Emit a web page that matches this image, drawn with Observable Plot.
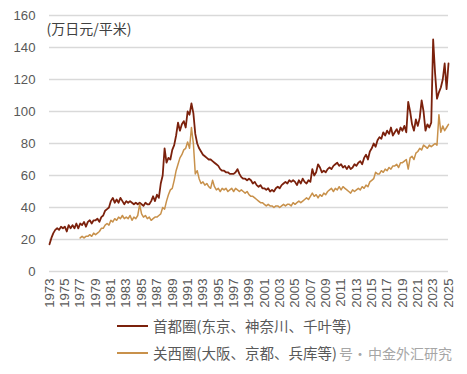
<!DOCTYPE html>
<html><head><meta charset="utf-8">
<script src="https://cdn.jsdelivr.net/npm/d3@7"></script>
<script src="https://cdn.jsdelivr.net/npm/@observablehq/plot@0.6"></script>
<style>
body{margin:0;background:#fff;font-family:"Noto Sans CJK SC","Liberation Sans",sans-serif;}
#wrap{position:relative;width:467px;height:374px;overflow:hidden;background:#fff}
.legline{position:absolute;height:2px;width:31px;left:117px}
.legtext{position:absolute;left:153px;font-size:14.5px;color:#595959;line-height:18px;white-space:nowrap}
.wm{position:absolute;font-size:14px;color:#a6a6a6;line-height:18px;white-space:nowrap}
</style></head><body>
<div id="wrap"><div id="chart"></div></div>
<script>
// 首都圈 quarterly values starting 1973
const capitalStart = 1973;
const capitalValues = [
17,21,24,26, 27,26,28,27, 28,25,29,27, 29,27,30,27, 30,29,31,28,
31,32,30,32, 32,33,31,34, 35,38,39,40, 44,46,43,45, 43,46,44,42,
44,43,44,43, 42,43,42,43, 42,41,43,42, 42,44,47,44, 48,46,55,60,
77,68,71,70, 76,79,85,93, 88,92,94,90, 100,98,105,99, 86,80,77,75,
73,72,71,70, 70,69,68,67, 66,64,63,63, 62,62,61,61, 61,62,64,61,
59,58,58,57, 58,57,55,56, 54,53,54,52, 52,51,52,50, 51,50,52,53,
52,54,55,56, 55,57,56,57, 56,54,57,55, 58,56,55,57, 56,64,60,62,
67,65,62,63, 62,64,65,64, 66,67,68,66, 67,65,66,64, 66,64,65,67,
66,68,69,67, 71,73,70,75, 77,80,78,82, 84,83,87,85, 88,86,90,85,
87,89,86,90, 88,91,87,106, 100,92,88,95, 91,96,107,100, 88,92,90,93,
145,124,108,112, 115,120,130,114, 130
];
// 关西圈 quarterly values starting 1977
const kansaiStart = 1977;
const kansaiValues = [
21,22,21,22, 22,23,22,24, 23,24,25,27, 27,29,30,29, 32,31,33,32,
34,33,35,33, 34,33,35,32, 34,33,35,42, 36,34,35,33, 34,32,33,34,
34,35,36,40, 39,44,48,51, 52,57,63,67, 71,73,76,77, 81,77,90,80,
61,63,58,55, 56,54,55,53, 52,57,53,51, 52,50,52,51, 52,50,51,52,
50,52,51,50, 51,50,49,50, 48,47,47,46, 45,44,43,43, 42,41,42,41,
41,40,41,41, 40,41,42,41, 42,42,41,43, 42,43,44,43, 44,45,46,45,
47,49,47,48, 46,48,47,49, 48,50,51,52, 50,52,51,53, 51,53,52,51,
50,49,51,50, 51,52,51,53, 52,54,53,56, 57,58,62,61, 61,63,62,64,
63,65,64,66, 66,67,65,68, 68,69,70,64, 71,72,70,74, 75,77,76,79,
78,77,79,78, 79,80,79,98, 87,91,88,90, 92
];
const yearTicks = [1973,1975,1977,1979,1981,1983,1985,1987,1989,1991,1993,1995,1997,1999,2001,2003,2005,2007,2009,2011,2013,2015,2017,2019,2021,2023,2025];
const yTicks = [0,20,40,60,80,100,120,140,160];
const seriesNames = ["首都圈(东京、神奈川、千叶等)", "关西圈(大阪、京都、兵库等)"];
const seriesColors = ["#7b210c", "#c8914b"];
const unitLabel = "(万日元/平米)";
const watermarkParts = ["号·", "中金外汇研究"];

const capitalRows = capitalValues.map((v, i) => ({t: capitalStart + i / 4, v}));
const kansaiRows = kansaiValues.map((v, i) => ({t: kansaiStart + i / 4, v}));

const chart = Plot.plot({
  width: 467, height: 312,
  marginTop: 15, marginBottom: 41, marginLeft: 49, marginRight: 19,
  style: {fontFamily: '"Liberation Sans", "Noto Sans CJK SC", sans-serif', fontSize: "13.2px", color: "#595959", background: "white"},
  x: {domain: [1973, 2025], ticks: yearTicks, tickFormat: d => String(d), tickRotate: -90, tickSize: 0, tickPadding: 7, label: null},
  y: {domain: [0, 160], ticks: yTicks, tickSize: 0, tickPadding: 14, label: null},
  marks: [
    Plot.gridY(yTicks, {stroke: "#d9d9d9", strokeOpacity: 1, strokeWidth: 1.3}),
    Plot.line(capitalRows, {x: "t", y: "v", stroke: seriesColors[0], strokeWidth: 1.8}),
    Plot.line(kansaiRows, {x: "t", y: "v", stroke: seriesColors[1], strokeWidth: 1.5}),
    Plot.text([unitLabel], {text: d => d, frameAnchor: "top-left", dx: -3, dy: 9, textAnchor: "start", fontSize: 14, fill: "#404040", fontFamily: '"Noto Sans CJK SC", sans-serif'})
  ]
});
const wrap = document.getElementById("wrap");
document.getElementById("chart").appendChild(chart);

const legTops = [326, 353];
seriesNames.forEach((name, i) => {
  const l = document.createElement("div");
  l.className = "legline";
  l.style.top = (legTops[i] - 1) + "px";
  l.style.background = seriesColors[i];
  wrap.appendChild(l);
  const t = document.createElement("div");
  t.className = "legtext";
  t.style.top = (legTops[i] - 9) + "px";
  t.textContent = name;
  wrap.appendChild(t);
});
// watermark: first part right-aligned ending at x=367, second part starting at x=368
const w1 = document.createElement("div");
w1.className = "wm";
w1.style.right = (467 - 367) + "px";
w1.style.top = (legTops[1] - 9) + "px";
w1.textContent = watermarkParts[0];
wrap.appendChild(w1);
const w2 = document.createElement("div");
w2.className = "wm";
w2.style.left = "368px";
w2.style.top = (legTops[1] - 9) + "px";
w2.textContent = watermarkParts[1];
wrap.appendChild(w2);
</script>
</body></html>
